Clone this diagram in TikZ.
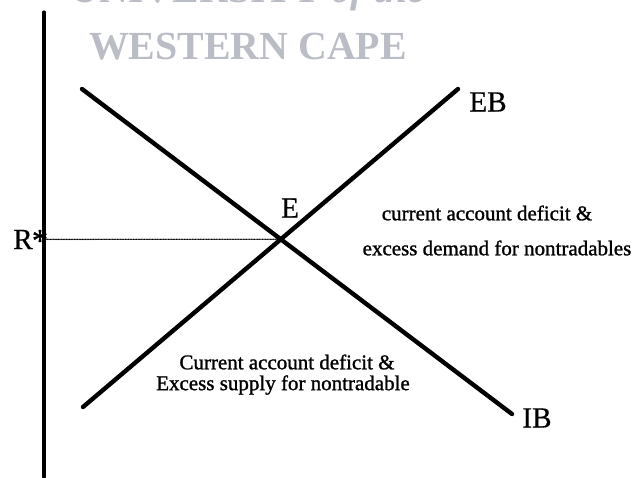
\documentclass[tikz,border=0pt]{standalone}
\usepackage{fontspec}
\setmainfont{Liberation Serif}
\newfontfamily\heavyserif[FakeBold=1.2]{Liberation Serif}
\newfontfamily\labelserif[FakeBold=0.5]{Liberation Serif}
\usepackage{tikz}
\usepackage{tkz-euclide}
\usetikzlibrary{arrows}

\definecolor{wmgray}{RGB}{186,188,198}

\tikzset{
  curve/.style={line width=3.3pt, line cap=round},
  axisline/.style={line width=2.3pt},
  biglabel/.style={font=\labelserif\fontsize{22}{26}\selectfont, inner sep=0pt},
  starlabel/.style={font=\heavyserif\fontsize{24}{28}\selectfont, inner sep=0pt},
  regionlabel/.style={font=\heavyserif\fontsize{15.8}{19}\selectfont, inner sep=0pt},
  watermark/.style={font=\fontsize{30}{34}\selectfont\bfseries, text=wmgray, inner sep=0pt}
}

\begin{document}
\begin{tikzpicture}[scale=0.2646]
  \useasboundingbox (0,0) rectangle (63.4,47.7);

  % watermark
  \begin{scope}
    \clip (0,0) rectangle (63.4,47.7);
    \node[watermark] (wmtop) at (24.8,48.4) {UNIVERSITY \textit{of the}};
    \node[watermark] (wmcape) at (24.8,43.0) {WESTERN CAPE};
  \end{scope}

  \tkzDefPoint(4.4,46.5){Y} \tkzDefPoint(4.4,0){O}
  \tkzDefPoint(8.3,7.0){EBa} \tkzDefPoint(45.8,38.8){EBb}
  \tkzDefPoint(8.2,38.8){IBa} \tkzDefPoint(51.2,6.3){IBb}
  \tkzInterLL(EBa,EBb)(IBa,IBb) \tkzGetPoint{E}
  \tkzDefShiftPoint[E](180:1){EE}
  \tkzInterLL(E,EE)(O,Y) \tkzGetPoint{R}

  \tkzDrawSegment[axisline](O,Y)
  \tkzDrawSegment[densely dotted, line width=1pt](R,E)
  \tkzDrawSegment[curve](EBa,EBb)
  \tkzDrawSegment[curve](IBa,IBb)

  \node[biglabel, anchor=base] (lblR) at (2.3,22.8) {R};
  \node[starlabel, anchor=base] (lblStar) at (4.0,22.6) {*};
  \node[biglabel] (lblE) at (29.0,26.9) {E};
  \node[biglabel] (lblEB) at (48.8,37.5) {EB};
  \node[biglabel] (lblIB) at (53.7,5.9) {IB};

  \node[regionlabel] (defA) at (48.7,26.4) {current account deficit \&};
  \node[regionlabel] (defB) at (49.7,22.9) {excess demand for nontradables};
  \node[regionlabel] (supA) at (28.7,11.5) {Current account deficit \&};
  \node[regionlabel] (supB) at (28.3,9.2) {Excess supply for nontradable};

\end{tikzpicture}
\end{document}
